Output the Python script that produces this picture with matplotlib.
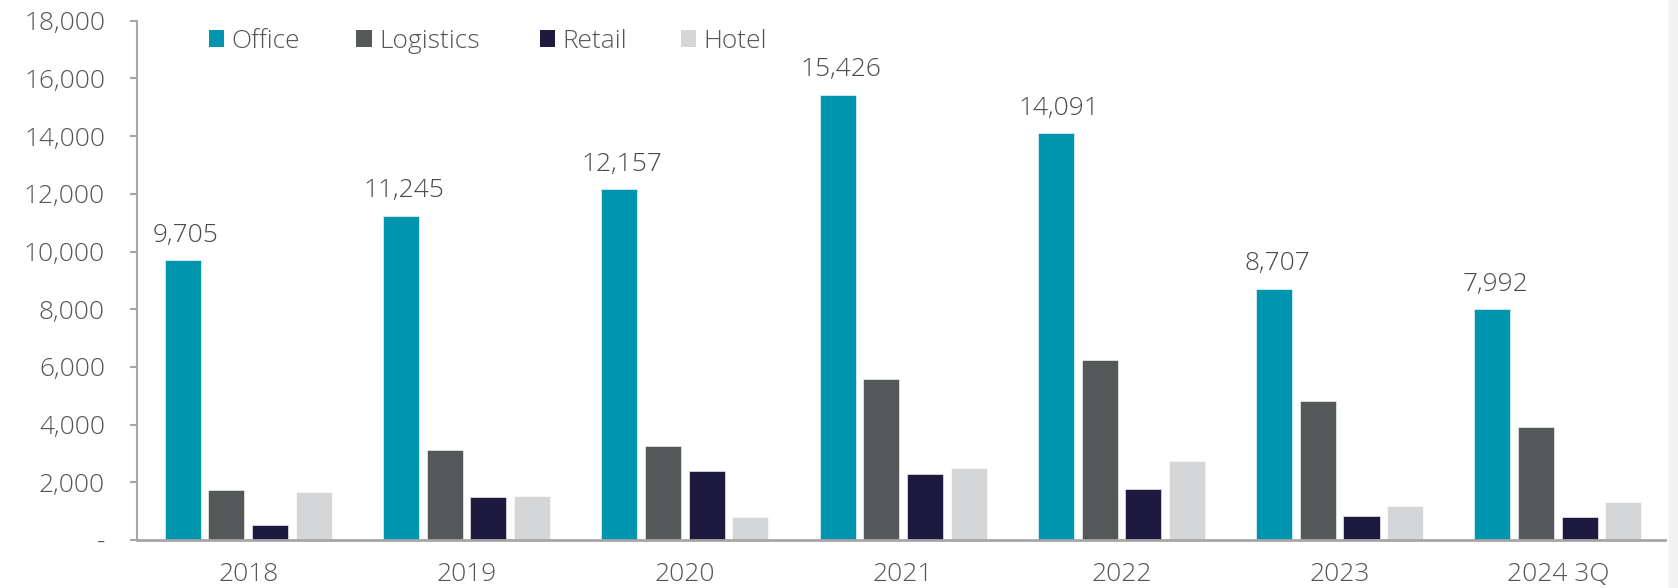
import matplotlib
matplotlib.use("Agg")
import matplotlib.pyplot as plt
from matplotlib.patches import Patch
from matplotlib.legend import Legend
import numpy as np
from matplotlib.ticker import FuncFormatter

years = ["2018", "2019", "2020", "2021", "2022", "2023", "2024 3Q"]
office = [9705, 11245, 12157, 15426, 14091, 8707, 7992]
logistics = [1740, 3110, 3250, 5570, 6230, 4820, 3910]
retail = [520, 1480, 2400, 2290, 1770, 840, 810]
hotel = [1670, 1510, 790, 2510, 2750, 1180, 1320]

series = [
    ("Office", office, "#0095AE"),
    ("Logistics", logistics, "#545859"),
    ("Retail", retail, "#1E1A3F"),
    ("Hotel", hotel, "#D5D6D8"),
]

plt.rcParams["font.family"] = ["Open Sans", "DejaVu Sans"]
text_color = "#555555"
axis_color = "#A6A6A6"
fs = 19

fig = plt.figure(figsize=(16.78, 5.88), dpi=100)
ax = fig.add_axes([0.0816, 0.0816, 0.9106, 0.8832])

x = np.arange(len(years))
width = 0.165
offsets = [-0.3, -0.1, 0.1, 0.3]

for (name, vals, color), off in zip(series, offsets):
    bars = ax.bar(x + off, vals, width, color=color, label=name,
                  edgecolor="white", linewidth=0.4, zorder=2)
    if name == "Office":
        for b, v in zip(bars, vals):
            ax.annotate(f"{v:,}", (b.get_x() + b.get_width() / 2, v),
                        xytext=(2, 9), textcoords="offset points",
                        ha="center", va="bottom", fontsize=fs,
                        color="#4A4A4A", fontweight="light")

ax.set_xlim(-0.51, 6.49)
ax.set_ylim(0, 18000)
ax.set_yticks(np.arange(0, 18001, 2000))
ax.yaxis.set_major_formatter(FuncFormatter(lambda v, p: "-" if v == 0 else f"{int(v):,}"))
ax.set_xticks(x)
ax.set_xticklabels(years)

for side in ["top", "right"]:
    ax.spines[side].set_visible(False)
ax.spines["left"].set_color(axis_color)
ax.spines["left"].set_linewidth(1.5)
ax.spines["bottom"].set_color(axis_color)
ax.spines["bottom"].set_linewidth(2)
ax.spines["bottom"].set_zorder(3)

ax.tick_params(axis="y", length=5, width=1.5, color=axis_color,
               labelsize=fs, labelcolor=text_color, pad=18)
ax.tick_params(axis="x", length=0, labelsize=fs, labelcolor=text_color, pad=16)
for lbl in ax.get_xticklabels() + ax.get_yticklabels():
    lbl.set_fontweight("light")

# one legend entry per series, spaced along the top of the plot
legend_x = [0.0471, 0.1437, 0.2637, 0.356]
for (name, vals, color), lx in zip(series, legend_x):
    leg = Legend(ax, [Patch(facecolor=color)], [name],
                 loc="center left", bbox_to_anchor=(lx, 0.96),
                 frameon=False, fontsize=fs, handlelength=0.58,
                 handleheight=0.62, handletextpad=0.28,
                 borderpad=0, borderaxespad=0, labelcolor=text_color)
    for t in leg.get_texts():
        t.set_fontweight("light")
    ax.add_artist(leg)

# faint border strip along the right edge
fig.patches.append(plt.Rectangle((0.9945, 0), 0.0055, 1, transform=fig.transFigure,
                                 color="#F2F2F2", zorder=0))

fig.savefig("out.png", dpi=100)
